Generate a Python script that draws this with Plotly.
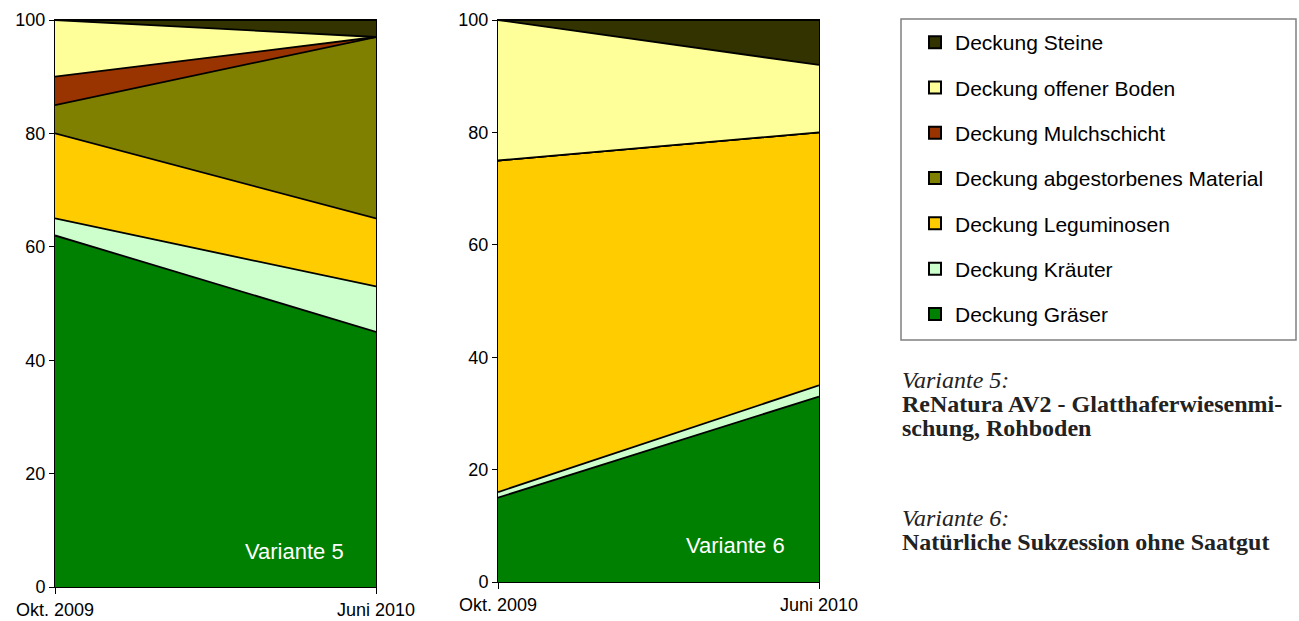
import plotly.graph_objects as go

categories = ["Okt. 2009", "Juni 2010"]
series_names = ["Deckung Gräser", "Deckung Kräuter", "Deckung Leguminosen",
                "Deckung abgestorbenes Material", "Deckung Mulchschicht",
                "Deckung offener Boden", "Deckung Steine"]
colors = ["#008000", "#CCFFCC", "#FFCC00", "#808000", "#993300", "#FFFF99", "#333300"]

# Variante 5 (left chart)
v5_graeser = [62, 45]
v5_kraeuter = [3, 8]
v5_leguminosen = [15, 12]
v5_abgestorben = [5, 32]
v5_mulch = [5, 0]
v5_boden = [10, 0]
v5_steine = [0, 3]

# Variante 6 (right chart)
v6_graeser = [15, 33]
v6_kraeuter = [1, 2]
v6_leguminosen = [59, 45]
v6_abgestorben = [0, 0]
v6_mulch = [0, 0]
v6_boden = [25, 12]
v6_steine = [0, 8]

y_ticks = [0, 20, 40, 60, 80, 100]

v5 = [v5_graeser, v5_kraeuter, v5_leguminosen, v5_abgestorben, v5_mulch, v5_boden, v5_steine]
v6 = [v6_graeser, v6_kraeuter, v6_leguminosen, v6_abgestorben, v6_mulch, v6_boden, v6_steine]

W, H = 1299, 621
fig = go.Figure()
xpos = list(range(len(categories)))

for data, xa, ya, grp in [(v5, "x", "y", "v5"), (v6, "x2", "y2", "v6")]:
    for name, vals, col in zip(series_names, data, colors):
        fig.add_trace(go.Scatter(
            x=xpos, y=vals, name=name, mode="lines", stackgroup=grp,
            fillcolor=col, line=dict(color="black", width=1.8),
            xaxis=xa, yaxis=ya, showlegend=False, hoverinfo="skip"))

# legend-only entries (top to bottom: Steine ... Gräser)
for i, (name, col) in enumerate(reversed(list(zip(series_names, colors)))):
    fig.add_trace(go.Scatter(
        x=[None], y=[None], name=name, mode="markers",
        marker=dict(symbol="square", size=13, color=col, line=dict(color="black", width=1.5)),
        legendgroup=f"g{i}", showlegend=True, xaxis="x", yaxis="y"))

font_ax = dict(family="Liberation Sans, Arial", size=18, color="black")

def px_x(a, b):
    return [a / W, b / W]

def px_y(top, bottom):
    return [(H - bottom) / H, (H - top) / H]

xcommon = dict(range=[0, 1], tickvals=xpos, ticktext=categories, showgrid=False, zeroline=False,
               showline=True, linecolor="black", linewidth=1, mirror=True, automargin=False,
               ticks="outside", ticklen=6, tickcolor="black", tickfont=font_ax)
ycommon = dict(range=[0, 100], tickvals=y_ticks, showgrid=False, zeroline=False,
               showline=True, linecolor="black", linewidth=1, mirror=True, automargin=False,
               ticks="outside", ticklen=5, tickcolor="black", tickfont=font_ax)

fig.update_layout(
    width=W, height=H,
    margin=dict(l=0, r=0, t=0, b=0, autoexpand=False),
    paper_bgcolor="white", plot_bgcolor="white",
    xaxis=dict(domain=px_x(55, 376), anchor="y", **xcommon),
    yaxis=dict(domain=px_y(20, 587), anchor="x", **ycommon),
    xaxis2=dict(domain=px_x(498, 819), anchor="y2", **xcommon),
    yaxis2=dict(domain=px_y(20, 582), anchor="x2", **ycommon),
    legend=dict(x=915 / W, y=1 - 22 / H, xanchor="left", yanchor="top",
                traceorder="grouped", tracegroupgap=15,
                font=dict(family="Liberation Sans, Arial", size=21, color="black"),
                bgcolor="rgba(0,0,0,0)", borderwidth=0, itemsizing="constant"),
    showlegend=True,
)

fig.add_shape(type="rect", xref="paper", yref="paper",
              x0=901 / W, x1=1296 / W, y0=1 - 340 / H, y1=1 - 19 / H,
              line=dict(color="#808080", width=1.5), fillcolor="rgba(0,0,0,0)")

serif = "Liberation Serif, Times New Roman"
ann = [
    dict(x=243, y=551, text="Variante 5", font=dict(family="Liberation Sans, Arial", size=22, color="white")),
    dict(x=684, y=545, text="Variante 6", font=dict(family="Liberation Sans, Arial", size=22, color="white")),
    dict(x=900, y=380, text="<i>Variante 5:</i>", font=dict(family=serif, size=24, color="#222")),
    dict(x=900, y=404, text="<b>ReNatura AV2 - Glatthaferwiesenmi-</b>", font=dict(family=serif, size=24, color="#222")),
    dict(x=900, y=428, text="<b>schung, Rohboden</b>", font=dict(family=serif, size=24, color="#222")),
    dict(x=900, y=518, text="<i>Variante 6:</i>", font=dict(family=serif, size=24, color="#222")),
    dict(x=900, y=542, text="<b>Natürliche Sukzession ohne Saatgut</b>", font=dict(family=serif, size=24, color="#222")),
]
for a in ann:
    fig.add_annotation(x=a["x"] / W, y=1 - a["y"] / H, xref="paper", yref="paper",
                       xanchor="left", yanchor="middle", showarrow=False,
                       text=a["text"], font=a["font"])

fig.write_html("out.html")
